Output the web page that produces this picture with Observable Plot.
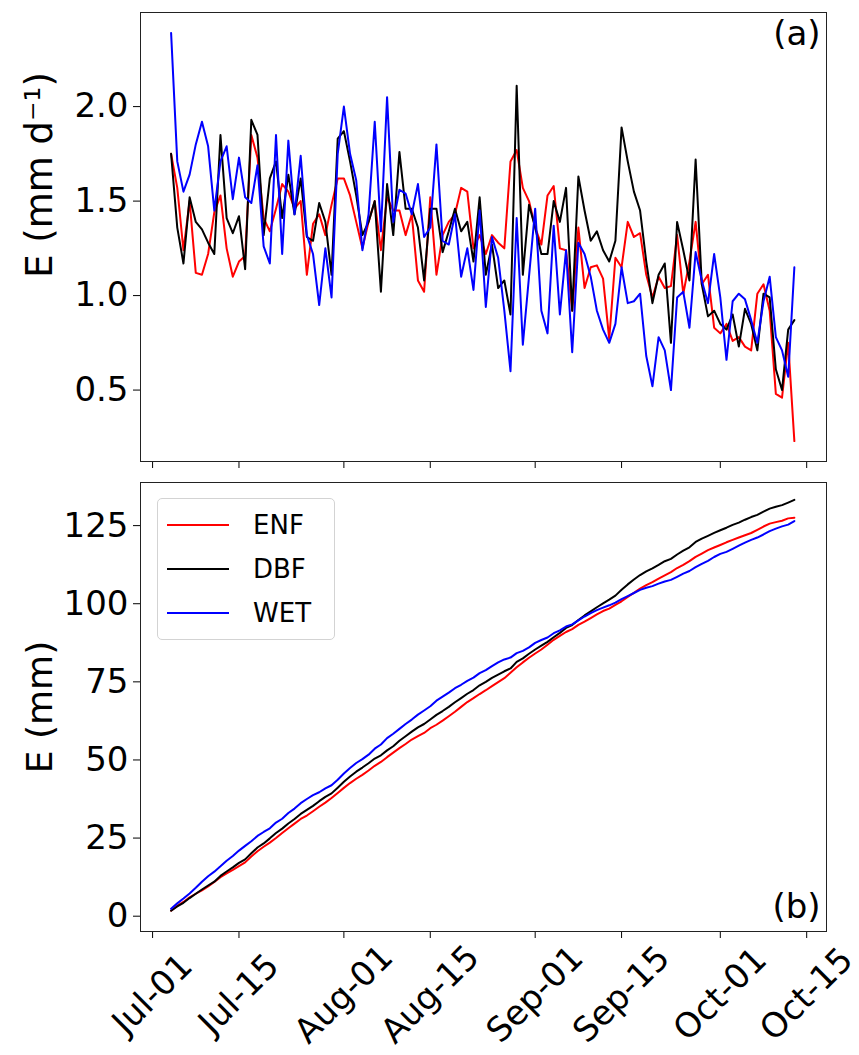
<!DOCTYPE html>
<html><head><meta charset="utf-8">
<script src="https://cdn.jsdelivr.net/npm/d3@7"></script>
<script src="https://cdn.jsdelivr.net/npm/@observablehq/plot@0.6"></script>
<style>
body{margin:0;background:#fff;}
#wrap{position:relative;width:859px;height:1055px;font-family:"DejaVu Sans";}
#wrap svg{display:block;}
#legend{position:absolute;left:157px;top:498px;width:176px;height:140px;border:1px solid #d3d3d3;border-radius:5px;background:rgba(255,255,255,0.85);}
.item{position:absolute;left:0;width:176px;height:40px;}
.item .ln{position:absolute;left:9px;top:19px;width:62px;height:2px;}
.item .tx{position:absolute;left:95px;top:3px;font-size:26px;line-height:34px;color:#000;}
</style></head>
<body><div id="wrap"></div>
<script>
const seriesNames = ["ENF", "DBF", "WET"];
const seriesColors = ["#ff0000", "#000000", "#0000ff"];
const firstDay = "2020-07-04";
const xTickDates = ["2020-07-01","2020-07-15","2020-08-01","2020-08-15","2020-09-01","2020-09-15","2020-10-01","2020-10-15"];
const yTicksA = [0.5, 1.0, 1.5, 2.0];
const yTicksB = [0, 25, 50, 75, 100, 125];
const labelA = "E (mm d\u207B\u00B9)";
const labelB = "E (mm)";

const enf = [
1.75,1.57,1.24,1.50,1.12,1.11,1.22,1.44,1.53,1.25,
1.10,1.18,1.21,1.85,1.73,1.41,1.34,1.46,1.59,1.55,
1.46,1.50,1.11,1.38,1.43,1.32,1.48,1.62,1.62,1.53,
1.39,1.25,1.39,1.50,1.24,1.52,1.45,1.45,1.32,1.43,
1.08,1.02,1.52,1.11,1.32,1.39,1.43,1.57,1.55,1.25,
1.32,1.22,1.32,1.28,1.25,1.71,1.77,1.57,1.50,1.36,
1.27,1.53,1.58,1.25,1.24,0.92,1.36,1.04,1.15,1.16,
1.09,0.77,1.20,1.15,1.39,1.31,1.33,1.11,0.99,1.10,
1.04,1.05,1.32,1.01,1.18,1.39,1.06,1.11,0.83,0.80,
0.85,0.76,0.78,0.73,0.71,1.01,1.06,0.92,0.48,0.46,0.75,0.23];
const dbf = [
1.75,1.36,1.17,1.52,1.39,1.35,1.28,1.22,1.85,1.41,
1.33,1.42,1.14,1.93,1.85,1.32,1.62,1.71,1.41,1.64,
1.43,1.62,1.31,1.29,1.49,1.39,1.11,1.83,1.87,1.71,
1.53,1.32,1.39,1.50,1.02,1.59,1.32,1.76,1.46,1.46,
1.36,1.08,1.46,1.46,1.23,1.34,1.46,1.34,1.39,1.18,
1.52,1.11,1.27,1.04,1.08,0.90,2.11,1.11,1.48,1.36,
1.22,1.22,1.50,1.39,1.57,0.92,1.63,1.45,1.29,1.34,
1.24,1.18,1.29,1.89,1.71,1.55,1.45,1.18,0.96,1.11,
1.17,0.75,1.39,1.24,1.08,1.72,1.06,0.89,0.92,0.85,
0.82,0.90,0.73,0.93,0.85,0.71,1.01,0.99,0.61,0.50,0.82,0.87];
const wet = [
2.39,1.71,1.55,1.64,1.80,1.92,1.79,1.45,1.71,1.79,
1.51,1.73,1.52,1.49,1.69,1.26,1.17,1.85,1.22,1.82,
1.43,1.74,1.32,1.22,0.95,1.25,0.99,1.75,2.00,1.75,
1.61,1.24,1.43,1.92,1.34,2.05,1.39,1.56,1.54,1.43,
1.59,1.31,1.36,1.80,1.29,1.27,1.43,1.10,1.25,1.03,
1.45,0.94,1.31,1.20,0.92,0.60,1.41,0.74,1.10,1.46,
0.92,0.80,1.37,0.90,1.24,0.70,1.28,1.22,1.10,0.92,
0.82,0.75,0.85,1.15,0.96,0.97,1.01,0.68,0.52,0.78,
0.71,0.50,0.99,1.02,0.83,1.23,1.08,0.96,1.22,0.99,
0.66,0.97,1.01,0.98,0.87,0.75,0.97,1.10,0.78,0.71,0.57,1.15];

const start = new Date(firstDay + "T00:00:00Z");
const days = d3.utcDay.range(start, d3.utcDay.offset(start, enf.length));
const seriesValues = [enf, dbf, wet];
const rows = [];
seriesNames.forEach((name, i) => seriesValues[i].forEach((v, j) => rows.push({date: days[j], series: name, value: v})));
const xTicks = xTickDates.map(s => new Date(s + "T00:00:00Z"));
const xDomain = [new Date("2020-06-29T01:00:00Z"), new Date("2020-10-18T05:00:00Z")];
const fmt = d3.utcFormat("%b-%d");
const style = {fontFamily: "DejaVu Sans", fontSize: "34px", background: "white", color: "black", overflow: "visible"};
const color = {domain: seriesNames, range: seriesColors};

const topPlot = Plot.plot({
  width: 859, height: 472,
  marginTop: 12, marginBottom: 11, marginLeft: 140, marginRight: 33,
  style, color,
  x: {type: "utc", domain: xDomain},
  y: {domain: [0.122, 2.498]},
  marks: [
    Plot.axisX({ticks: xTicks, tickSize: 7, tickFormat: () => "", label: null}),
    Plot.axisY({ticks: yTicksA, tickSize: 7, tickPadding: 5, tickFormat: d3.format(".1f"), label: null}),
    Plot.line(rows, {x: "date", y: "value", stroke: "series", strokeWidth: 2}),
    Plot.frame({stroke: "#222"}),
    Plot.text(["(a)"], {text: d => d, frameAnchor: "top-right", dx: -6, dy: 8, lineAnchor: "top", fontSize: 34}),
    Plot.text([labelA], {text: d => d, frameAnchor: "left", rotate: -90, dx: -100, dy: -62, fontSize: 37, lineAnchor: "middle", textAnchor: "middle"})
  ]
});

const botPlot = Plot.plot({
  width: 859, height: 583,
  marginTop: 10, marginBottom: 124, marginLeft: 140, marginRight: 33,
  style, color,
  x: {type: "utc", domain: xDomain},
  y: {domain: [-4.9, 138.8]},
  marks: [
    Plot.axisX({ticks: xTicks, tickSize: 7, tickFormat: fmt, tickRotate: -45, textAnchor: "middle", lineAnchor: "middle", tickPadding: 56, fontSize: 34, label: null}),
    Plot.axisY({ticks: yTicksB, tickSize: 7, tickPadding: 5, label: null}),
    Plot.line(rows, Plot.mapY("cumsum", {x: "date", y: "value", stroke: "series", strokeWidth: 2})),
    Plot.frame({stroke: "#222"}),
    Plot.text(["(b)"], {text: d => d, frameAnchor: "bottom-right", dx: -6, dy: -14, lineAnchor: "bottom", fontSize: 34}),
    Plot.text([labelB], {text: d => d, frameAnchor: "left", rotate: -90, dx: -100, fontSize: 36, lineAnchor: "middle", textAnchor: "middle"})
  ]
});

const wrap = document.getElementById("wrap");
wrap.appendChild(topPlot);
wrap.appendChild(botPlot);

const legend = document.createElement("div");
legend.id = "legend";
seriesNames.forEach((name, i) => {
  const it = document.createElement("div");
  it.className = "item";
  it.style.top = (6 + i * 44) + "px";
  const ln = document.createElement("div");
  ln.className = "ln";
  ln.style.background = seriesColors[i];
  const tx = document.createElement("div");
  tx.className = "tx";
  tx.textContent = name;
  it.appendChild(ln); it.appendChild(tx);
  legend.appendChild(it);
});
wrap.appendChild(legend);
</script>
</body></html>
